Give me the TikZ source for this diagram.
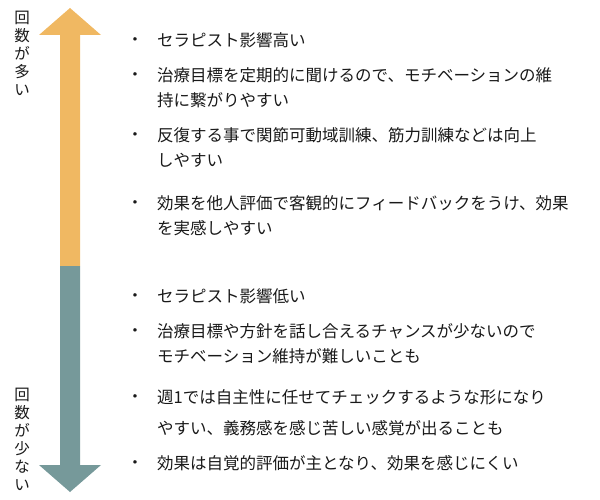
\documentclass[tikz,border=0pt]{standalone}
\usepackage{fontspec}
\newfontfamily\cjk{Noto Sans CJK JP}
\definecolor{orng}{HTML}{F0B862}
\definecolor{teal2}{HTML}{76999A}
\begin{document}
\begin{tikzpicture}[x=1pt,y=-1pt,
  txt/.style={anchor=west,inner sep=0,font=\cjk\fontsize{16.5}{20}\selectfont,text=black!90},
  bul/.style={anchor=center,inner sep=0,font=\fontsize{13}{14}\selectfont,text=black!90},
  vert/.style={anchor=north,inner sep=0,align=center,font=\cjk\fontsize{15.5}{18}\selectfont,text=black!90}]
\useasboundingbox (0,0) rectangle (600,500);
\fill[orng] (70,8) -- (101,35) -- (80,35) -- (80,266) -- (60,266) -- (60,35) -- (39,35) -- cycle;
\fill[teal2] (60,266) -- (80,266) -- (80,465) -- (101,465) -- (70,492) -- (39,465) -- (60,465) -- cycle;
\node[vert] (v1) at (22,11) {回\\数\\が\\多\\い};
\node[vert] (v2) at (22,388) {回\\数\\が\\少\\な\\い};
\foreach \y/\t/\b in {
 40/セラピスト影響高い/1,
 75/治療目標を定期的に聞けるので、モチベーションの維/1,
 100/持に繋がりやすい/0,
 135/反復する事で関節可動域訓練、筋力訓練などは向上/1,
 160/しやすい/0,
 203/効果を他人評価で客観的にフィードバックをうけ、効果/1,
 228/を実感しやすい/0,
 296/セラピスト影響低い/1,
 331/治療目標や方針を話し合えるチャンスが少ないので/1,
 356/モチベーション維持が難しいことも/0,
 397/週1では自主性に任せてチェックするような形になり/1,
 428/やすい、義務感を感じ苦しい感覚が出ることも/0,
 463/効果は自覚的評価が主となり、効果を感じにくい/1}{
  \node[txt] (t\y) at (157,\y) {\t};
  \ifnum\b=1 \node[bul] (b\y) at (135,\y) {•};\fi
}
\end{tikzpicture}
\end{document}
